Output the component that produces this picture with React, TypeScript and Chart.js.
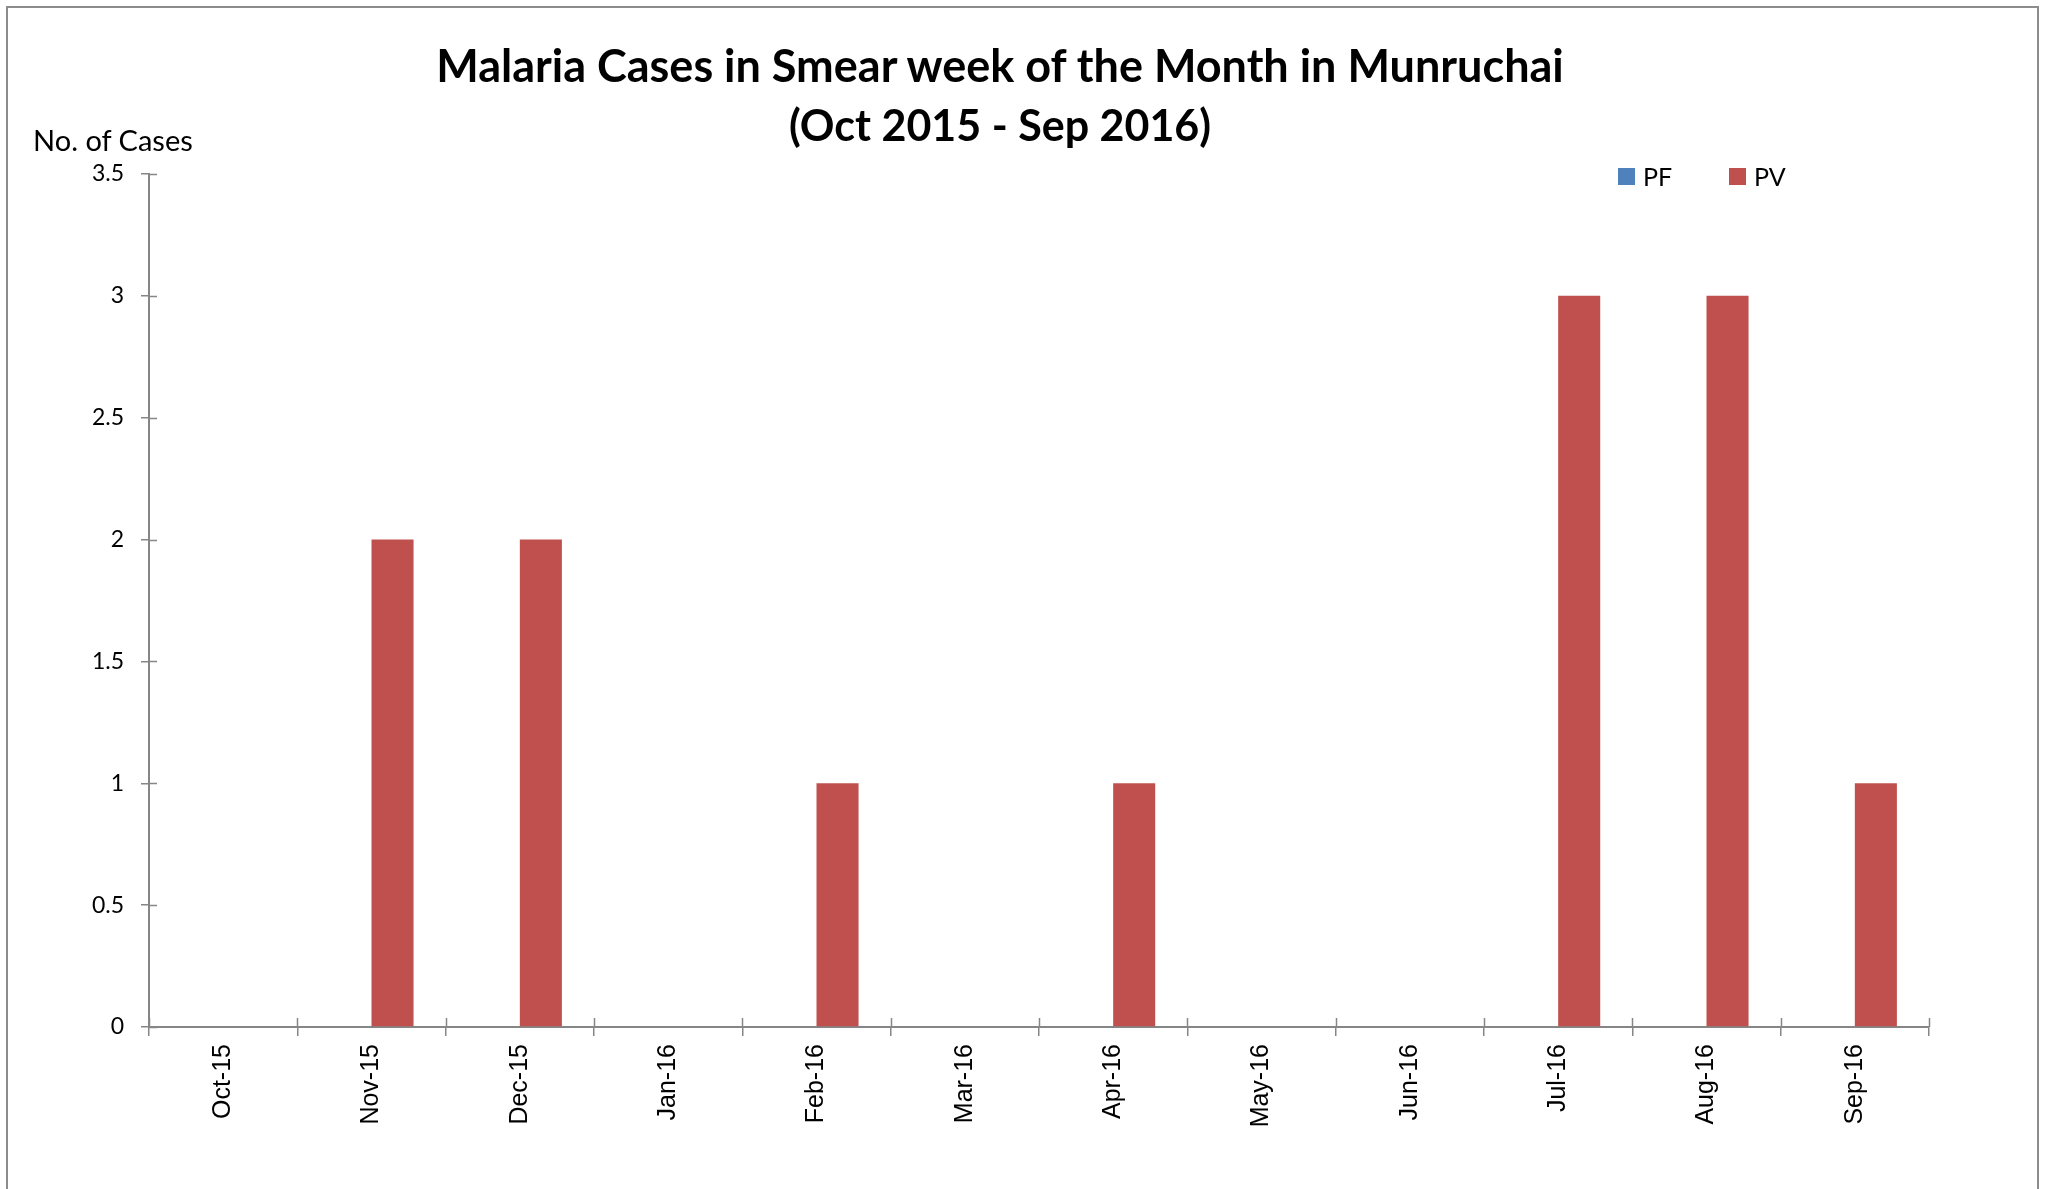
import React, { useEffect, useRef } from "react";
import { Chart, registerables } from "chart.js";

Chart.register(...registerables);

const months = ["Oct-15", "Nov-15", "Dec-15", "Jan-16", "Feb-16", "Mar-16", "Apr-16", "May-16", "Jun-16", "Jul-16", "Aug-16", "Sep-16"];
const pfValues = [0, 0, 0, 0, 0, 0, 0, 0, 0, 0, 0, 0];
const pvValues = [0, 2, 2, 0, 1, 0, 1, 0, 0, 3, 3, 1];
const titleLines = ["Malaria Cases in Smear week of the Month in Munruchai", "(Oct 2015 - Sep 2016)"];
const yAxisTitle = "No. of Cases";
const seriesNames = ["PF", "PV"];
const seriesColors = ["#4F81BD", "#C0504D"];

const AXIS_COLOR = "#868686";

const crossTicks = {
  id: "crossTicks",
  afterDraw(chart: any) {
    const ctx = chart.ctx;
    const x = chart.scales.x;
    const y = chart.scales.y;
    ctx.save();
    ctx.strokeStyle = AXIS_COLOR;
    ctx.lineWidth = 1.5;
    ctx.beginPath();
    y.ticks.forEach((_t: any, i: number) => {
      const py = Math.round(y.getPixelForTick(i)) + 0.5;
      ctx.moveTo(x.left, py);
      ctx.lineTo(x.left + 8, py);
    });
    const n = x.ticks.length;
    for (let i = 0; i <= n; i++) {
      const px = Math.round(x.left + (i * x.width) / n) + 0.5;
      ctx.moveTo(px, y.bottom);
      ctx.lineTo(px, y.bottom - 9);
    }
    ctx.stroke();
    ctx.restore();
  },
};

export default function App() {
  const ref = useRef<HTMLCanvasElement | null>(null);
  useEffect(() => {
    if (!ref.current) return;
    const chart = new Chart(ref.current, {
      type: "bar",
      data: {
        labels: months,
        datasets: [
          { label: seriesNames[0], data: pfValues, backgroundColor: seriesColors[0] },
          { label: seriesNames[1], data: pvValues, backgroundColor: seriesColors[1] },
        ],
      },
      options: {
        animation: false,
        responsive: false,
        maintainAspectRatio: false,
        layout: { padding: { left: 0, top: 174, right: 117, bottom: 0 } },
        plugins: { legend: { display: false }, title: { display: false }, tooltip: { enabled: false } },
        datasets: { bar: { categoryPercentage: 0.567, barPercentage: 1 } },
        scales: {
          x: {
            grid: { display: true, drawOnChartArea: false, drawTicks: true, tickLength: 9, color: AXIS_COLOR, lineWidth: 1.5, offset: true },
            border: { display: true, color: AXIS_COLOR, width: 2 },
            ticks: { minRotation: 90, maxRotation: 90, padding: 8, color: "#000", font: { family: "Liberation Sans", size: 25 } },
            afterFit: (s: any) => { s.height = 1189 - 1027; },
          },
          y: {
            min: 0,
            max: 3.5,
            grid: { display: true, drawOnChartArea: false, drawTicks: true, tickLength: 8, color: AXIS_COLOR, lineWidth: 1.5 },
            border: { display: true, color: AXIS_COLOR, width: 2 },
            ticks: {
              stepSize: 0.5,
              padding: 17,
              color: "#000",
              font: { family: "Lato", size: 23 },
              callback: (v: any) => String(Number(v)),
            },
            afterFit: (s: any) => { s.width = 149; },
          },
        },
      },
      plugins: [crossTicks],
    });
    return () => chart.destroy();
  }, []);

  return (
    <div style={{ position: "fixed", left: 0, top: 0, width: 2046, height: 1189, background: "#fff", overflow: "hidden" }}>
      <div style={{ position: "absolute", left: 6, top: 6, width: 2033, height: 1200, border: "2px solid #8c8c8c", boxSizing: "border-box" }} />
      <canvas ref={ref} width={2046} height={1189} style={{ position: "absolute", left: 0, top: 0, width: 2046, height: 1189 }} />
      <div style={{ position: "absolute", left: 0, width: 2000, top: 36, textAlign: "center", fontFamily: "Lato", fontWeight: 700, color: "#000" }}>
        <div style={{ fontSize: 45, lineHeight: "59px" }}>{titleLines[0]}</div>
        <div style={{ fontSize: 43, lineHeight: "59px" }}>{titleLines[1]}</div>
      </div>
      <div style={{ position: "absolute", left: 33, top: 123, fontFamily: "Lato", fontSize: 29, lineHeight: "34px", color: "#000", whiteSpace: "nowrap" }}>{yAxisTitle}</div>
      <div style={{ position: "absolute", left: 1618, top: 160, display: "flex", alignItems: "center", fontFamily: "Lato", fontSize: 25, lineHeight: "32px", color: "#000" }}>
        {seriesNames.map((n, i) => (
          <div key={n} style={{ display: "flex", alignItems: "center", width: 111 }}>
            <span style={{ display: "inline-block", width: 17, height: 17, background: seriesColors[i], marginRight: 8 }} />
            <span>{n}</span>
          </div>
        ))}
      </div>
    </div>
  );
}
